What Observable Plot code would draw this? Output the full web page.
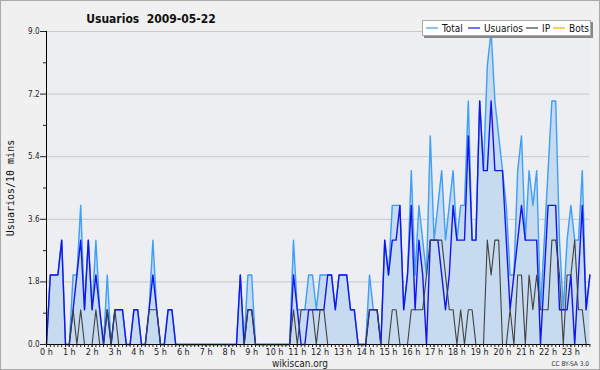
<!DOCTYPE html>
<html><head><meta charset="utf-8">
<script src="https://cdn.jsdelivr.net/npm/d3@7"></script>
<script src="https://cdn.jsdelivr.net/npm/@observablehq/plot@0.6"></script>
<style>
html,body{margin:0;padding:0;background:#f0f0f0;}
#chart{width:600px;height:370px;}
</style></head><body><div id="chart"></div>
<script>
// 10-minute slots of the day (0 = 00:00 ... 143 = 23:50)
const slots = d3.range(144);
const hourLabels = d3.range(24).map(h => h + " h");
const yMajor = [0, 1.8, 3.6, 5.4, 7.2, 9.0];
const yMinor = [0.9, 2.7, 4.5, 6.3, 8.1];
const seriesNames = ["Total", "Usuarios", "IP", "Bots"];

const total = [
  0,2,2,2,3,0,0,2,2,4,1,3,
  1,3,1,0,2,0,1,1,1,0,0,1,
  1,0,0,1,3,1,0,0,1,1,0,0,
  0,0,0,0,0,0,0,0,0,0,0,0,
  0,0,0,2,0,2,2,0,0,0,0,0,
  0,0,0,0,0,3,1,1,1,2,2,1,
  2,2,2,2,1,2,2,2,1,1,0,0,
  0,2,1,1,0,3,2,4,4,4,1,2,
  5,2,4,3,2,6,3,4,5,3,4,5,
  3,4,4,7,3,3,7,5,8,9,7,6,
  5,4,2,2,5,6,3,5,4,5,1,3,
  5,7,7,3,1,3,4,3,3,5,1,2
];
const usuarios = [
  0,2,2,2,3,0,0,1,2,3,1,3,
  1,2,1,0,1,0,1,1,1,0,0,1,
  1,0,0,1,2,1,0,0,1,1,0,0,
  0,0,0,0,0,0,0,0,0,0,0,0,
  0,0,0,2,0,1,1,0,0,0,0,0,
  0,0,0,0,0,2,1,0,0,1,1,1,
  1,1,2,2,1,2,2,2,1,1,0,0,
  0,1,1,1,0,3,2,3,3,4,1,2,
  4,1,3,2,0,3,3,3,2,1,2,4,
  3,3,3,6,3,3,7,5,5,7,5,5,
  5,3,1,2,3,4,3,3,3,3,0,2,
  4,4,4,1,1,1,2,0,2,4,1,2
];
const ip = [
  0,0,0,0,0,0,0,1,0,1,0,0,
  0,1,0,0,1,0,1,0,0,0,0,0,
  0,0,0,1,1,1,0,0,0,0,0,0,
  0,0,0,0,0,0,0,0,0,0,0,0,
  0,0,0,0,0,1,1,0,0,0,0,0,
  0,0,0,0,0,1,0,1,1,1,1,0,
  1,1,0,0,0,0,0,0,0,0,0,0,
  0,1,1,1,0,0,0,1,1,0,0,0,
  1,1,1,1,2,3,3,3,3,2,1,1,
  0,1,0,1,1,0,0,0,3,2,3,3,
  0,0,1,0,2,2,0,2,1,2,1,1,
  1,3,3,2,0,2,2,3,1,1,0,0
];
const bots = [
  0,0,0,0,0,0,0,0,0,0,0,0,
  0,0,0,0,0,0,0,0,0,0,0,0,
  0,0,0,0,0,0,0,0,0,0,0,0,
  0,0,0,0,0,0,0,0,0,0,0,0,
  0,0,0,0,0,0,0,0,0,0,0,0,
  0,0,0,0,0,0,0,0,0,0,0,0,
  0,0,0,0,0,0,0,0,0,0,0,0,
  0,0,0,0,0,0,0,0,0,0,0,0,
  0,0,0,0,0,0,0,0,0,0,0,0,
  0,0,0,0,0,0,0,0,0,0,0,0,
  0,0,0,0,0,0,0,0,0,0,0,0,
  0,0,0,0,0,0,0,0,0,0,0,0
];

const colors = {Total: "#3f9ef5", Usuarios: "#1414f0", IP: "#404040", Bots: "#ffa500"};
const data = slots.map((s, i) => ({s, total: total[i], usuarios: usuarios[i], ip: ip[i], bots: bots[i]}));

const font = "'DejaVu Sans Condensed','DejaVu Sans',sans-serif";
const chart = Plot.plot({
  width: 600, height: 370,
  marginLeft: 46, marginRight: 10.6, marginTop: 31, marginBottom: 26,
  style: {background: "#f0f0f0", fontFamily: font, fontSize: "9px", color: "#222", overflow: "visible"},
  x: {domain: [0, 143], label: null},
  y: {domain: [0, 9], label: null},
  marks: [
    Plot.frame({fill: "#eceef1", stroke: null}),
    Plot.ruleY(yMajor.slice(1), {stroke: "#c8c8c8", strokeWidth: 1}),
    Plot.areaY(data, {x: "s", y: "total", fill: "#c6dbef"}),
    Plot.line(data, {x: "s", y: "total", stroke: colors.Total, strokeWidth: 1.4}),
    Plot.line(data, {x: "s", y: "usuarios", stroke: colors.Usuarios, strokeWidth: 1.4}),
    Plot.line(data, {x: "s", y: "ip", stroke: colors.IP, strokeWidth: 1.1}),
    Plot.line(data, {x: "s", y: "bots", stroke: colors.Bots, strokeWidth: 1}),
    Plot.ruleY([0], {stroke: "#000", strokeWidth: 1}),
    Plot.ruleX([0], {stroke: "#000", strokeWidth: 1}),
    Plot.axisY({ticks: yMajor, tickFormat: d3.format(".1f"), tickSize: 6, tickPadding: 1, fontSize: 8, label: null}),
    Plot.axisY({ticks: yMinor, tickSize: 3, tickFormat: () => "", label: null}),
    Plot.axisX({ticks: slots, tickSize: 3, tickFormat: () => "", label: null}),
    Plot.axisX({ticks: d3.range(0, 144, 6), tickSize: 3, tickPadding: 1, tickFormat: d => hourLabels[d / 6], label: null})
  ]
});

const svg = d3.select(chart);
// title
svg.append("text").attr("x", 151).attr("y", 23).attr("text-anchor", "middle")
  .attr("font-family", font).attr("font-weight", "bold").attr("font-size", 12).attr("fill", "#111")
  .text("Usuarios  2009-05-22");
// y axis title
svg.append("text").attr("transform", "translate(14,188) rotate(-90)").attr("text-anchor", "middle")
  .attr("font-family", "'DejaVu Sans Mono',monospace").attr("font-size", 10).attr("fill", "#111")
  .text("Usuarios/10 mins");
// footer
svg.append("text").attr("x", 300).attr("y", 367).attr("text-anchor", "middle")
  .attr("font-family", font).attr("font-size", 10).attr("fill", "#222").text("wikiscan.org");
svg.append("text").attr("x", 589).attr("y", 366).attr("text-anchor", "end")
  .attr("font-family", font).attr("font-size", 6.5).attr("fill", "#333").text("CC BY-SA 3.0");
// legend
const lg = svg.append("g");
lg.append("rect").attr("x", 424).attr("y", 22).attr("width", 169).attr("height", 16).attr("fill", "#888");
lg.append("rect").attr("x", 422.5).attr("y", 20.5).attr("width", 168).attr("height", 15).attr("fill", "#fff").attr("stroke", "#aaa");
const legendPos = [426, 468, 526, 553];
seriesNames.forEach((name, k) => {
  const x0 = legendPos[k];
  lg.append("line").attr("x1", x0).attr("x2", x0 + 12).attr("y1", 28).attr("y2", 28)
    .attr("stroke", colors[name]).attr("stroke-width", 1.2);
  lg.append("text").attr("x", x0 + 16).attr("y", 32).attr("text-anchor", "start")
    .attr("font-family", font).attr("font-size", 10)
    .attr("fill", "#111").text(name);
});
// outer border
svg.append("rect").attr("x", 0.5).attr("y", 0.5).attr("width", 599).attr("height", 369)
  .attr("fill", "none").attr("stroke", "#aaa");

document.getElementById("chart").appendChild(chart);
</script></body></html>
